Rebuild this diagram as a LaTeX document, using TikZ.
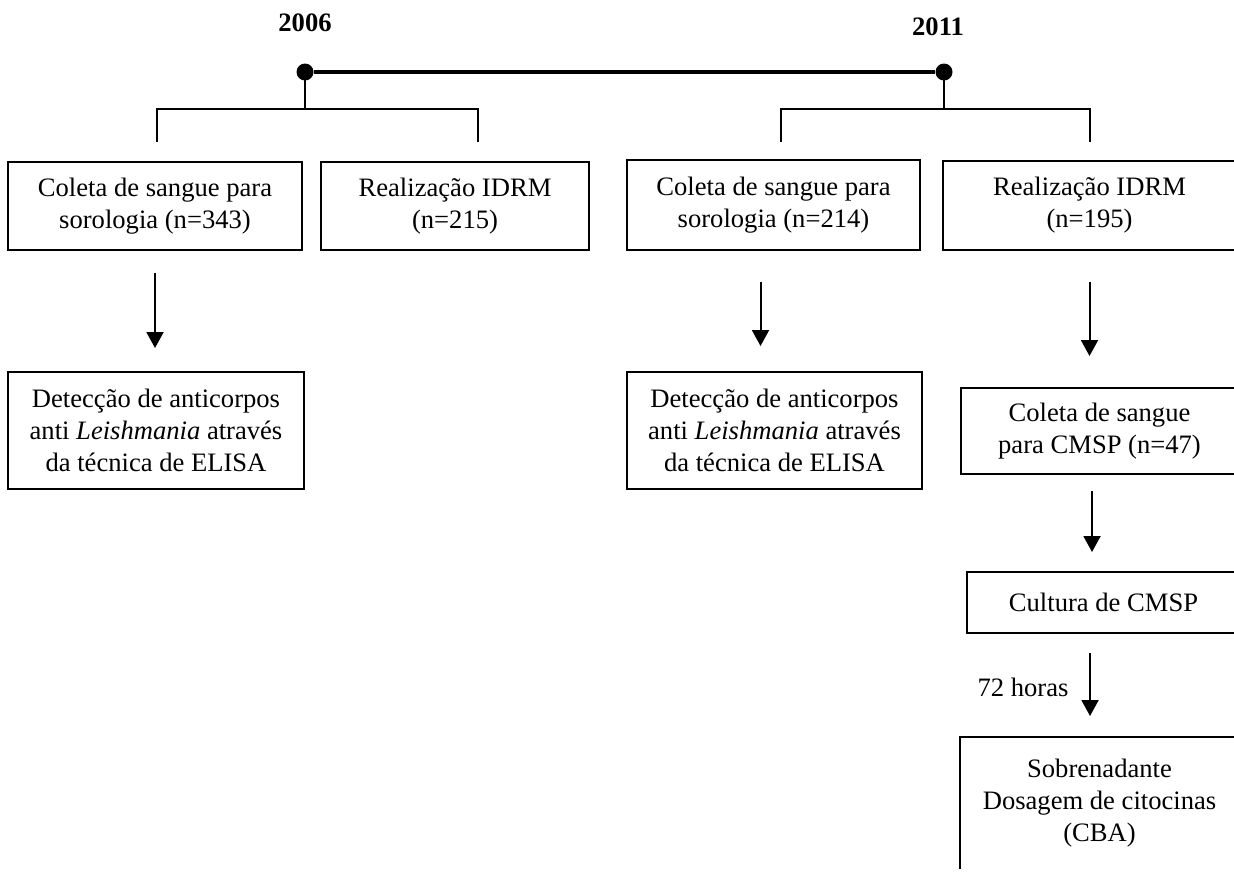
\documentclass[tikz,border=0pt]{standalone}
\usepackage{fontspec}
\setmainfont{Liberation Serif}
\usepackage{tikz}
\usetikzlibrary{arrows.meta,positioning,calc}

\begin{document}
\begin{tikzpicture}
    [x=0.5pt, y=-0.5pt,
      box/.style={draw, line width=1pt, align=center, inner sep=0pt,
          font=\fontsize{13.3pt}{16pt}\selectfont},
      open box/.style={box, draw=none},
      year/.style={font=\fontsize{13.3pt}{16pt}\selectfont\bfseries},
      note/.style={font=\fontsize{13.3pt}{16pt}\selectfont},
      dot/.style={circle, fill, inner sep=0pt, minimum size=8.5pt},
      link/.style={line width=1pt},
      arr/.style={line width=1pt, -{Triangle[length=8pt,width=8.5pt]}}
    ]
    \useasboundingbox (0,0) rectangle (1234,874);
    \clip (0,0) rectangle (1234,874);

    \node [year] (y06) at (305,23) {2006};
    \node [year] (y11) at (938,27) {2011};
    \node [dot] (t06) at (305,72) {};
    \node [dot] (t11) at (944,72) {};
    \draw [line width=2.4pt] (t06) -- (t11);

    \node [box, minimum width=147pt, minimum height=44pt] (coleta06) at (155,206)
        {Coleta de sangue para\\sorologia (n=343)};
    \node [box, minimum width=134pt, minimum height=44pt] (idrm06) at (455,206)
        {Realização IDRM\\(n=215)};
    \node [box, minimum width=146.5pt, minimum height=45pt] (coleta11) at (773.5,205)
        {Coleta de sangue para\\sorologia (n=214)};
    \node [box, minimum width=146.5pt, minimum height=44.5pt] (idrm11) at (1089.5,205.5)
        {Realização IDRM\\(n=195)};

    \coordinate (j06) at (305,109);
    \coordinate (l06) at (157,142);
    \coordinate (r06) at (478,142);
    \draw [link] (t06.center) -- (j06);
    \draw [link] (l06) |- (j06) -| (r06);
    \coordinate (j11) at (944,109);
    \coordinate (l11) at (781,142);
    \coordinate (r11) at (1090,142);
    \draw [link] (t11.center) -- (j11);
    \draw [link] (l11) |- (j11) -| (r11);

    \node [box, minimum width=148pt, minimum height=58.5pt] (elisa06) at (156,430.5)
        {Detecção de anticorpos\\anti \textit{Leishmania} através\\da técnica de ELISA};
    \node [box, minimum width=147.5pt, minimum height=58.5pt] (elisa11) at (774.5,430.5)
        {Detecção de anticorpos\\anti \textit{Leishmania} através\\da técnica de ELISA};
    \node [box, minimum width=138.5pt, minimum height=43pt] (cmsp) at (1099.5,431)
        {Coleta de sangue\\para CMSP (n=47)};
    \node [box, minimum width=136.5pt, minimum height=30.5pt] (cultura) at (1103.5,602.5)
        {Cultura de CMSP};
    \node [open box, minimum width=138.5pt, minimum height=65pt] (cba) at (1099.5,803)
        {Sobrenadante\\Dosagem de citocinas\\(CBA)};
    \draw [link] (cba.south west) -- (cba.north west) -- (cba.north east);

    \draw [arr, shorten <=11pt, shorten >=11.5pt] (coleta06.south) -- (coleta06.south |- elisa06.north);
    \draw [arr, shorten <=15.5pt, shorten >=12.5pt] ([xshift=-6.5pt]coleta11.south)
        -- ([xshift=-6.5pt]coleta11.south |- elisa11.north);
    \draw [arr, shorten <=15.5pt, shorten >=15.5pt] (idrm11.south) -- (idrm11.south |- cmsp.north);
    \draw [arr, shorten <=8pt, shorten >=9.5pt] ([xshift=-3.75pt]cmsp.south)
        -- ([xshift=-3.75pt]cmsp.south |- cultura.north);
    \draw [arr, shorten <=9.5pt, shorten >=10.5pt] ([xshift=-6.75pt]cultura.south)
        -- ([xshift=-6.75pt]cultura.south |- cba.north);
    \node [note] (horas) at (1023,687) {72 horas};
  \end{tikzpicture}
\end{document}
